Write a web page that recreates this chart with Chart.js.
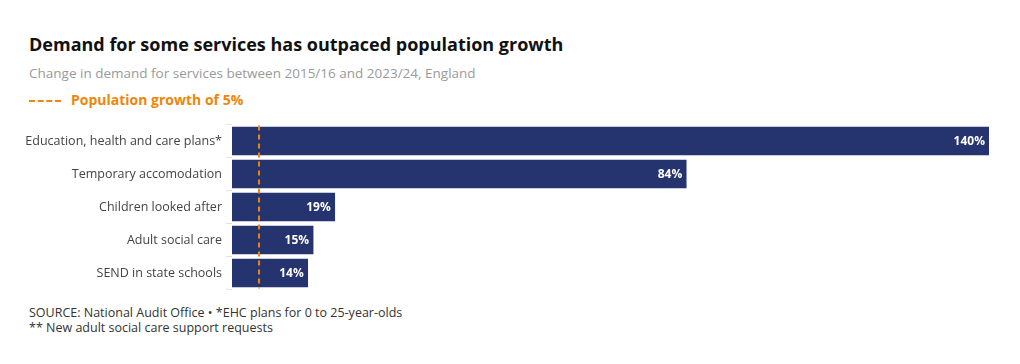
<!DOCTYPE html>
<html>
<head>
<meta charset="utf-8">
<script src="https://cdn.jsdelivr.net/npm/chart.js@4.4.0/dist/chart.umd.min.js"></script>
<style>
  body { margin: 0; background: #fff; font-family: "Open Sans", sans-serif; }
  .wrap { position: relative; width: 1020px; height: 364px; }
  .title { position: absolute; left: 29px; top: 32px; font-size: 18px; font-weight: 700; color: #111; }
  .sub { position: absolute; left: 29px; top: 64px; font-size: 13.5px; color: #9a9a9a; }
  .legend { position: absolute; left: 29px; top: 90px; font-size: 14px; font-weight: 700; color: #f0850a; }
  .legend .dash { display: inline-block; width: 32px; border-top: 2px dashed #f0850a; vertical-align: middle; margin-right: 10px; }
  .foot { position: absolute; left: 29px; top: 305px; font-size: 12.5px; color: #333; line-height: 15px; }
  #c { position: absolute; left: 0; top: 113px; }
</style>
</head>
<body>
<div class="wrap">
  <div class="title">Demand for some services has outpaced population growth</div>
  <div class="sub">Change in demand for services between 2015/16 and 2023/24, England</div>
  <div class="legend"><span class="dash"></span>Population growth of 5%</div>
  <canvas id="c" width="1020" height="188"></canvas>
  <div class="foot">SOURCE: National Audit Office • *EHC plans for 0 to 25-year-olds<br>** New adult social care support requests</div>
</div>
<script>
const categories = ['Education, health and care plans*', 'Temporary accomodation', 'Children looked after', 'Adult social care', 'SEND in state schools'];
const growth = [140, 84, 19, 15, 14];
const populationGrowth = 5;

const navy = '#25336e';
const orange = '#f0850a';

const refLine = {
  id: 'refLine',
  afterDatasetsDraw(chart) {
    const { ctx, chartArea, scales } = chart;
    const x = scales.x.getPixelForValue(populationGrowth);
    ctx.save();
    ctx.strokeStyle = orange;
    ctx.lineWidth = 2;
    ctx.setLineDash([5, 4]);
    ctx.beginPath();
    ctx.moveTo(x, chartArea.top + 1);
    ctx.lineTo(x, chartArea.bottom - 1);
    ctx.stroke();
    ctx.restore();
  }
};

const barLabels = {
  id: 'barLabels',
  afterDatasetsDraw(chart) {
    const { ctx } = chart;
    const meta = chart.getDatasetMeta(0);
    ctx.save();
    ctx.fillStyle = '#fff';
    ctx.font = 'bold 12px "Open Sans", sans-serif';
    ctx.textAlign = 'right';
    ctx.textBaseline = 'middle';
    meta.data.forEach((bar, i) => {
      ctx.fillText(growth[i] + '%', bar.x - 4, bar.y + 1);
    });
    ctx.restore();
  }
};

new Chart(document.getElementById('c'), {
  type: 'bar',
  data: {
    labels: categories,
    datasets: [{
      data: growth,
      backgroundColor: navy,
      borderWidth: 0,
      barThickness: 28
    }]
  },
  options: {
    indexAxis: 'y',
    responsive: false,
    animation: false,
    layout: { padding: { top: 10, bottom: 10, left: 0, right: 31 } },
    plugins: { legend: { display: false }, tooltip: { enabled: false } },
    scales: {
      x: { display: false, min: 0, max: 140 },
      y: {
        afterFit(scale) { scale.width = 232; },
        border: { display: false },
        grid: { drawOnChartArea: false, tickLength: 6, color: '#e2e2e2' },
        ticks: { color: '#444', padding: 4, font: { size: 12.5, family: '"Open Sans", sans-serif' } }
      }
    }
  },
  plugins: [refLine, barLabels]
});
</script>
</body>
</html>
